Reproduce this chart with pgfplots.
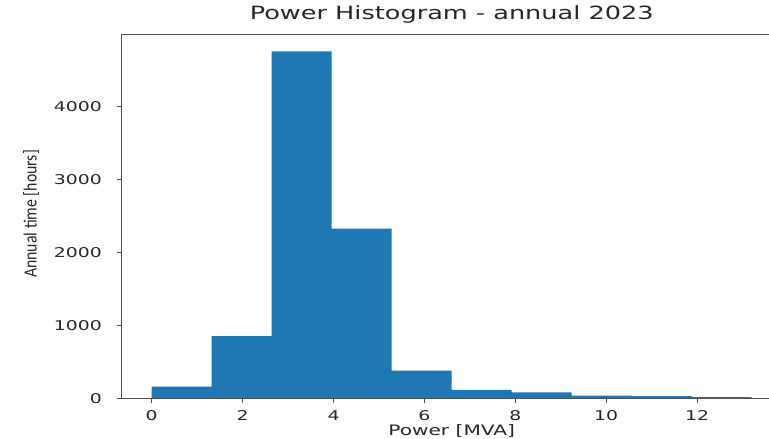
\documentclass[border=0pt]{standalone}
\usepackage{pgfplots}
\pgfplotsset{compat=1.18}
\usepackage{fontspec}
\setmainfont{DejaVu Sans}[FakeStretch=1.4]
\newfontfamily\ylabfont{Carlito}
\definecolor{histblue}{HTML}{1F77B4}
\definecolor{spine}{HTML}{4D4D4D}

\begin{document}
\begin{tikzpicture}
\useasboundingbox (-91.3pt,-30.5pt) rectangle (485.5pt,298.7pt);
\begin{axis}[
    at={(0pt,0pt)}, anchor=south west,
    width=495pt, height=273.2pt, scale only axis,
    xmin=-0.66, xmax=13.86, ymin=0, ymax=5000,
    axis lines*=left,
    xtick={0,2,...,12}, ytick={0,1000,...,4000},
    tick align=outside, xtick pos=bottom, ytick pos=left,
    major tick length=3.75pt,
    axis line style={spine, line width=0.6pt, -},
    every tick/.style={spine, line width=0.6pt},
    scaled y ticks=false,
    /pgf/number format/assume math mode=true,
    /pgf/number format/1000 sep={},
    ticklabel style={font=\fontsize{10.1}{12}\selectfont, text=black!85, inner sep=0pt},
    xticklabel style={anchor=base, yshift=-13pt},
    yticklabel style={anchor=east, xshift=-11pt},
    title={Power Histogram - annual 2023},
    title style={font=\fontsize{13.7}{16}\selectfont, text=black!85,
        at={(axis description cs:0.5,1)}, anchor=base, yshift=5.25pt},
    xlabel={Power [MVA]},
    xlabel style={font=\fontsize{10.8}{13}\selectfont, text=black!85,
        at={(axis description cs:0.5,0)}, anchor=base, yshift=-28pt},
    ylabel={\scalebox{1}[1.18]{\ylabfont\fontsize{11.85}{14}\selectfont Annual time [hours]}},
    ylabel style={text=black!85, at={(axis description cs:0,0.506)},
        anchor=center, yshift=68pt},
]
% annual hours per power bin (10 bins, 0 .. 13.2 MVA)
\addplot[ybar interval, fill=histblue, draw=none] coordinates {
    (0,159) (1.32,853) (2.64,4762) (3.96,2329) (5.28,378)
    (6.60,114) (7.92,82) (9.24,35) (10.56,30) (11.88,15) (13.2,15)
};
% top spine (the right one lies outside the cropped picture)
\draw[spine, line width=0.6pt] (rel axis cs:0,1) -- (rel axis cs:1,1);
\end{axis}
\end{tikzpicture}
\end{document}
